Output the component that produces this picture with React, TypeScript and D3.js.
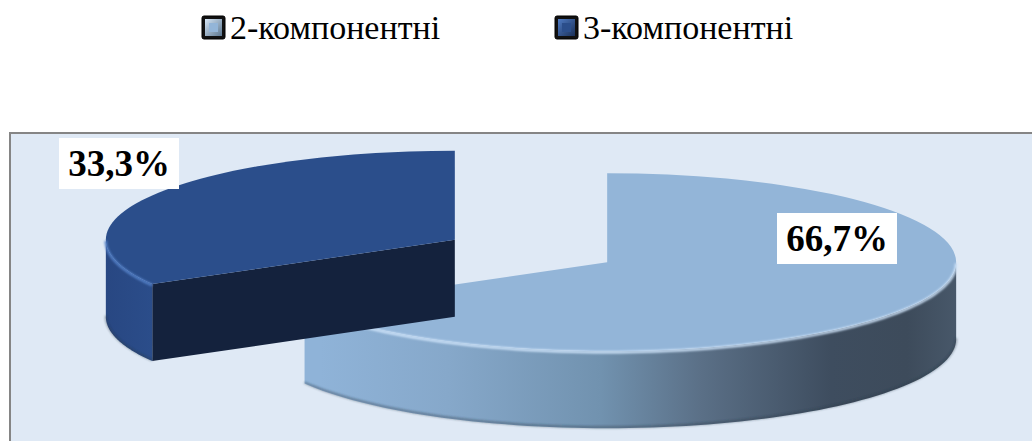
import React from "react";
import * as d3 from "d3";

// data
const categories = ["2-компонентні", "3-компонентні"];
const values = [66.7, 33.3];
const labels = ["66,7%", "33,3%"];

const W = 1032;
const H = 441;
const FONT = "Liberation Serif";

// 3d pie geometry
const cx = 531;
const cy = 251;
const rx = 349;
const ry = 89;
const k = ry / rx;
const depth = 77;
const explode = 88;

const topColors = ["#93b5d8", "#2b4e8b"];
const sideFill = ["url(#sideLight)", "url(#sideDark)"];
const faceColors = ["#3b4a5b", "#14223d"];
const rimColors = ["#cfe4fa", "#5582c9"];
const lightStops: [number, string][] = [
  [0, "#8fb3d8"],
  [0.2, "#86a8ca"],
  [0.44, "#7192af"],
  [0.6, "#5a6f86"],
  [0.8, "#3e4d5f"],
  [0.92, "#3d4b5b"],
  [1, "#48586a"],
];
const labelPos: [number, number][] = [
  [837, 238],
  [119, 163],
];
const legendX = [201, 554];

const App = () => {
  const pie = d3
    .pie<number>()
    .sort(null)
    .startAngle(0)
    .endAngle(2 * Math.PI);
  const arcs = pie(values);
  const arc = d3.arc<d3.PieArcDatum<number>>().innerRadius(0).outerRadius(rx);
  const line = d3.line<[number, number]>();

  // back slice first
  const order = arcs
    .map((a, i) => ({ a, i }))
    .sort(
      (p, q) =>
        Math.cos((p.a.startAngle + p.a.endAngle) / 2) -
        Math.cos((q.a.startAngle + q.a.endAngle) / 2)
    );

  const slices = order.map(({ a, i }) => {
    const mid = (a.startAngle + a.endAngle) / 2;
    const ox = cx + explode * Math.sin(mid);
    const oy = cy - explode * Math.cos(mid) * k;
    const pt = (t: number, dz = 0): [number, number] => [
      ox + rx * Math.sin(t),
      oy - ry * Math.cos(t) + dz,
    ];

    // radial cut faces that face the viewer
    const faces: number[] = [];
    if (Math.sin(a.startAngle) < -1e-6) faces.push(a.startAngle);
    if (Math.sin(a.endAngle) > 1e-6) faces.push(a.endAngle);

    // outer wall, front half only
    const s = Math.max(a.startAngle, Math.PI / 2);
    const e = Math.min(a.endAngle, (3 * Math.PI) / 2);
    const ts = e > s ? d3.range(s, e, (e - s) / 80).concat([e]) : [];

    return (
      <g key={i}>
        {faces.map((t) => (
          <path
            key={t}
            d={line([[ox, oy], pt(t), pt(t, depth), [ox, oy + depth]]) + "Z"}
            fill={faceColors[i]}
          />
        ))}
        {ts.length > 0 && (
          <>
            <path
              d={line(ts.map((t) => pt(t)).concat(ts.map((t) => pt(t, depth)).reverse())) + "Z"}
              fill={sideFill[i]}
            />
            <path
              d={line(ts.map((t) => pt(t, depth - 1)))!}
              fill="none"
              stroke="#2e3b4a"
              strokeOpacity={0.5}
              strokeWidth={2}
              filter="url(#soft)"
            />
          </>
        )}
        <path
          d={arc(a)!}
          transform={`translate(${ox},${oy}) scale(1,${k})`}
          fill={topColors[i]}
        />
        {ts.length > 0 && (
          <path
            d={line(ts.map((t) => pt(t, 1)))!}
            fill="none"
            stroke={rimColors[i]}
            strokeWidth={2.5}
            filter="url(#soft)"
          />
        )}
      </g>
    );
  });

  return (
    <svg
      width={W}
      height={H}
      style={{ position: "absolute", left: 0, top: 0, background: "#ffffff" }}
    >
      <defs>
        <linearGradient id="sideLight" gradientUnits="userSpaceOnUse" x1={320} x2={958} y1={0} y2={0}>
          {lightStops.map(([o, c]) => (
            <stop key={o} offset={o} stopColor={c} />
          ))}
        </linearGradient>
        <linearGradient id="sideDark" x1={0} x2={1} y1={0} y2={0}>
          <stop offset={0} stopColor="#284782" />
          <stop offset={1} stopColor="#2b4d8a" />
        </linearGradient>
        <filter id="soft">
          <feGaussianBlur stdDeviation={0.8} />
        </filter>
        <linearGradient id="mk1" x1={0} x2={1} y1={0} y2={1}>
          <stop offset={0} stopColor="#d6e6f6" />
          <stop offset={1} stopColor="#5c7790" />
        </linearGradient>
        <linearGradient id="mk2" x1={0} x2={1} y1={0} y2={1}>
          <stop offset={0} stopColor="#4f7bc4" />
          <stop offset={1} stopColor="#1a3058" />
        </linearGradient>
      </defs>

      {/* plot area */}
      <rect x={10} y={133} width={W} height={H} fill="#dfe9f5" stroke="#858585" strokeWidth={2} />

      {slices}

      {/* data labels */}
      {arcs.map((a, i) => {
        const [lx, ly] = labelPos[i];
        return (
          <g key={i}>
            <rect x={lx - 60} y={ly - 25} width={120} height={51} fill="#ffffff" />
            <text
              x={lx}
              y={ly + 13}
              textAnchor="middle"
              fill="#000"
              fontSize={37}
              fontWeight="bold"
              style={{ fontFamily: FONT }}
            >
              {labels[i]}
            </text>
          </g>
        );
      })}

      {/* legend */}
      {categories.map((c, i) => (
        <g key={c} transform={`translate(${legendX[i]},15)`}>
          <rect x={1} y={1} width={23} height={23} rx={2} fill="#111" stroke="#000" />
          <rect x={4} y={4} width={17} height={17} fill={`url(#mk${i + 1})`} />
          <rect x={8} y={8} width={9} height={9} fill={topColors[i]} />
          <text x={29} y={24} fill="#000" fontSize={34} style={{ fontFamily: FONT }}>
            {c}
          </text>
        </g>
      ))}
    </svg>
  );
};

export default App;
